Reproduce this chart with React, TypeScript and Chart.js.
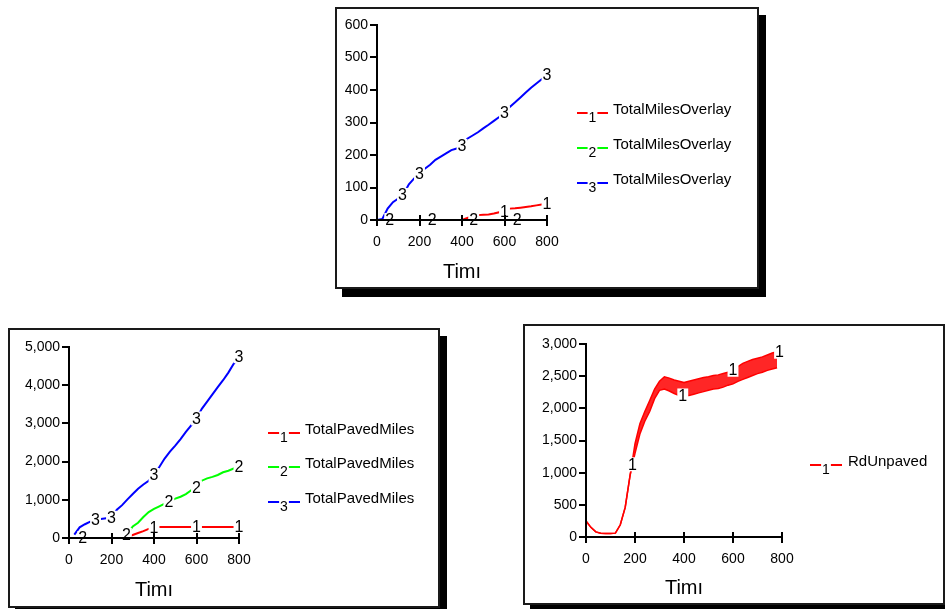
import React, { useEffect, useRef } from "react";
import { Chart, registerables } from "chart.js";

Chart.register(...registerables);

const FONT = '"Liberation Sans", Arial, Helvetica, sans-serif';
const AXIS_TITLE = "Timı";

// ---------- shared time axis (step 25) ----------
const time25 = [0, 25, 50, 75, 100, 125, 150, 175, 200, 225, 250, 275, 300, 325, 350, 375, 400, 425, 450, 475, 500, 525, 550, 575, 600, 625, 650, 675, 700, 725, 750, 775, 800];

// ---------- top chart: TotalMilesOverlay ----------
const overlay1 = [0, 0, 0, 0, 0, 0, 0, 0, 0, 0, 0, 0, 0, 0, 0, 0, 0, 6, 12, 15, 16, 17, 20, 24, 27, 35, 36, 38, 40, 42, 45, 48, 50];
const overlay2 = [0, 0, 0, 0, 0, 0, 0, 0, 0, 0, 0, 0, 0, 0, 0, 0, 0, 0, 0, 0, 0, 0, 0, 0, 0, 0, 0, 0, 0, 0, 0, 0, 0];
const overlay3 = [0, 3, 35, 55, 66, 80, 110, 128, 142, 158, 170, 185, 195, 205, 215, 220, 228, 250, 260, 270, 282, 293, 305, 317, 330, 348, 362, 377, 392, 407, 420, 433, 447];
const overlayMarks1 = [600, 800];
const overlayMarks2 = [60, 260, 455, 660];
const overlayMarks3 = [120, 200, 400, 600, 800];

// ---------- bottom-left chart: TotalPavedMiles ----------
const paved1 = [0, 0, 0, 0, 0, 0, 0, 0, 0, 0, 0, 0, 80, 130, 180, 240, 270, 290, 290, 290, 290, 290, 290, 290, 290, 290, 290, 290, 290, 290, 290, 290, 290];
const paved2 = [0, 0, 0, 0, 0, 0, 0, 0, 0, 0, 0, 100, 300, 400, 550, 680, 760, 830, 900, 960, 1030, 1080, 1150, 1250, 1330, 1500, 1560, 1600, 1650, 1720, 1760, 1820, 1860];
const paved3 = [null, 90, 280, 360, 430, 470, 500, 515, 530, 740, 860, 1010, 1150, 1290, 1400, 1500, 1650, 1860, 2080, 2260, 2420, 2590, 2780, 2950, 3130, 3380, 3570, 3760, 3950, 4130, 4330, 4560, 4760];
const pavedMarks1 = [400, 600, 800];
const pavedMarks2 = [65, 270, 470, 600, 800];
const pavedMarks3 = [125, 200, 400, 600, 800];

// ---------- bottom-right chart: RdUnpaved ----------
const rdStartTime = [0, 20, 40, 60, 80, 100, 120, 140, 160, 180];
const rdStart = [250, 150, 80, 60, 55, 55, 60, 190, 460, 960];
const rdBandTime = [200, 220, 240, 260, 280, 300, 320, 340, 360, 380, 400, 420, 440, 460, 480, 500, 520, 540, 560, 580, 600, 620, 640, 660, 680, 700, 720, 740, 760, 780];
const rdBandLow = [1300, 1600, 1800, 1950, 2150, 2280, 2300, 2270, 2230, 2200, 2200, 2200, 2220, 2240, 2260, 2280, 2300, 2310, 2330, 2360, 2380, 2420, 2450, 2480, 2510, 2540, 2560, 2590, 2610, 2630];
const rdBandHigh = [1450, 1760, 1950, 2120, 2300, 2420, 2490, 2470, 2440, 2420, 2400, 2420, 2440, 2460, 2480, 2490, 2510, 2520, 2540, 2560, 2600, 2650, 2700, 2730, 2760, 2780, 2800, 2830, 2860, 2880];
const rdMarksLow = [190, 395];
const rdMarksHigh = [600, 790];

const RED = "#ff0000";
const GREEN = "#00ff00";
const BLUE = "#0000ff";

type Pt = { x: number; y: number | null };
const pts = (xs: number[], ys: (number | null)[]): Pt[] => xs.map((x, i) => ({ x, y: ys[i] }));

function valueAt(data: Pt[], t: number): number | null {
  const v = data.filter((p) => p.y != null) as { x: number; y: number }[];
  if (!v.length) return null;
  if (t <= v[0].x) return v[0].y;
  if (t >= v[v.length - 1].x) return v[v.length - 1].y;
  for (let i = 0; i < v.length - 1; i++) {
    const a = v[i], b = v[i + 1];
    if (t >= a.x && t <= b.x) {
      const f = (t - a.x) / (b.x - a.x);
      return a.y + (b.y - a.y) * f;
    }
  }
  return null;
}

const stellaPlugin = {
  id: "stella",
  afterDatasetsDraw(chart: any, _args: any, opts: any) {
    const { ctx, chartArea: a } = chart;
    const xs = chart.scales.x;
    const ys = chart.scales.y;
    ctx.save();
    // number markers on the curves
    ctx.font = `16px ${FONT}`;
    ctx.textAlign = "center";
    ctx.textBaseline = "middle";
    for (const m of opts.marks || []) {
      const data = chart.data.datasets[m.ds].data as Pt[];
      for (const t of m.times) {
        const v = valueAt(data, t);
        if (v == null) continue;
        const px = xs.getPixelForValue(t);
        const py = ys.getPixelForValue(v);
        const w = ctx.measureText(m.label).width;
        ctx.fillStyle = "#fff";
        ctx.fillRect(px - w / 2 - 1, py - 7, w + 2, 14);
        ctx.fillStyle = "#000";
        ctx.fillText(m.label, px, py + 1);
      }
    }
    // axis lines redrawn on top
    ctx.strokeStyle = "#000";
    ctx.lineWidth = 2;
    ctx.beginPath();
    ctx.moveTo(a.left, a.top - 1);
    ctx.lineTo(a.left, a.bottom);
    ctx.lineTo(a.right + 1, a.bottom);
    ctx.stroke();
    for (const tk of xs.ticks) {
      if (tk.value <= 0) continue;
      const px = Math.round(xs.getPixelForValue(tk.value));
      ctx.beginPath();
      ctx.moveTo(px, a.bottom - 5);
      ctx.lineTo(px, a.bottom + 6);
      ctx.stroke();
    }
    // legend
    const L = opts.legend;
    L.items.forEach((it: any, i: number) => {
      const y = L.rows[i];
      ctx.strokeStyle = it.color;
      ctx.lineWidth = 2;
      ctx.beginPath();
      ctx.moveTo(L.x1, y);
      ctx.lineTo(L.x2, y);
      ctx.stroke();
      ctx.font = `14px ${FONT}`;
      const cx = (L.x1 + L.x2) / 2;
      const w = ctx.measureText(it.num).width;
      ctx.fillStyle = "#fff";
      ctx.fillRect(cx - w / 2 - 1, y - 1, w + 2, 11);
      ctx.fillStyle = "#000";
      ctx.textAlign = "center";
      ctx.textBaseline = "middle";
      ctx.fillText(it.num, cx, y + 5);
      ctx.font = `15px ${FONT}`;
      ctx.textAlign = "left";
      ctx.textBaseline = "alphabetic";
      ctx.fillText(it.text, L.textX, y + 1);
    });
    ctx.restore();
  },
};

type Spec = {
  left: number;
  top: number;
  width: number;
  height: number;
  area: { left: number; right: number; top: number; bottom: number };
  yMax: number;
  yStep: number;
  titlePad: number;
  datasets: any[];
  marks: { ds: number; label: string; times: number[] }[];
  legend: { items: { num: string; color: string; text: string }[]; x1: number; x2: number; textX: number; rows: number[] };
};

function Panel({ spec }: { spec: Spec }) {
  const ref = useRef<HTMLCanvasElement | null>(null);
  const cw = spec.width - 4;
  const ch = spec.height - 4;
  useEffect(() => {
    if (!ref.current) return;
    const tickFont = { size: 14, family: FONT };
    const chart = new Chart(ref.current, {
      type: "line",
      data: { datasets: spec.datasets },
      options: {
        responsive: false,
        maintainAspectRatio: false,
        animation: false,
        layout: { padding: { left: 0, top: spec.area.top, right: cw - spec.area.right, bottom: 0 } },
        elements: { point: { radius: 0 }, line: { tension: 0, borderWidth: 2 } },
        plugins: {
          legend: { display: false },
          tooltip: { enabled: false },
          stella: { marks: spec.marks, legend: spec.legend },
        } as any,
        scales: {
          x: {
            type: "linear",
            min: 0,
            max: 800,
            afterFit: (s: any) => {
              s.height = ch - spec.area.bottom;
            },
            ticks: { stepSize: 200, color: "#000", font: tickFont, padding: 8, maxRotation: 0 },
            grid: { drawOnChartArea: false, drawTicks: true, tickLength: 6, color: "#000", lineWidth: 2 },
            border: { display: true, color: "#000", width: 2 },
            title: {
              display: true,
              text: AXIS_TITLE,
              color: "#000",
              font: { size: 20, family: FONT },
              padding: { top: 0, bottom: spec.titlePad },
            },
          },
          y: {
            type: "linear",
            min: 0,
            max: spec.yMax,
            afterFit: (s: any) => {
              s.width = spec.area.left;
            },
            ticks: {
              stepSize: spec.yStep,
              color: "#000",
              font: tickFont,
              padding: 2,
              callback: (v: any) => Number(v).toLocaleString("en-US"),
            },
            grid: { drawOnChartArea: false, drawTicks: true, tickLength: 7, color: "#000", lineWidth: 2 },
            border: { display: true, color: "#000", width: 2 },
          },
        },
      } as any,
      plugins: [stellaPlugin as any],
    });
    return () => chart.destroy();
  }, []);
  return (
    <div
      style={{
        position: "absolute",
        left: spec.left,
        top: spec.top,
        width: spec.width - 4,
        height: spec.height - 4,
        border: "2px solid #1a1a1a",
        boxShadow: "7px 8px 0 #000",
        background: "#fff",
      }}
    >
      <canvas ref={ref} width={cw} height={ch} style={{ display: "block", width: cw, height: ch }} />
    </div>
  );
}

const line = (label: string, data: Pt[], color: string, extra: any = {}) => ({
  label,
  data,
  borderColor: color,
  backgroundColor: color,
  borderWidth: 2,
  pointRadius: 0,
  fill: false,
  ...extra,
});

const overlaySpec: Spec = {
  left: 335,
  top: 7,
  width: 424,
  height: 282,
  area: { left: 40, right: 210, top: 16, bottom: 211 },
  yMax: 600,
  yStep: 100,
  titlePad: 3,
  datasets: [
    line("TotalMilesOverlay", pts(time25, overlay1), RED),
    line("TotalMilesOverlay", pts(time25, overlay2), GREEN),
    line("TotalMilesOverlay", pts(time25, overlay3), BLUE),
  ],
  marks: [
    { ds: 0, label: "1", times: overlayMarks1 },
    { ds: 1, label: "2", times: overlayMarks2 },
    { ds: 2, label: "3", times: overlayMarks3 },
  ],
  legend: {
    items: [
      { num: "1", color: RED, text: "TotalMilesOverlay" },
      { num: "2", color: GREEN, text: "TotalMilesOverlay" },
      { num: "3", color: BLUE, text: "TotalMilesOverlay" },
    ],
    x1: 240,
    x2: 271,
    textX: 276,
    rows: [104, 139, 174],
  },
};

const pavedSpec: Spec = {
  left: 8,
  top: 328,
  width: 432,
  height: 280,
  area: { left: 59, right: 229, top: 17, bottom: 208 },
  yMax: 5000,
  yStep: 1000,
  titlePad: 4,
  datasets: [
    line("TotalPavedMiles", pts(time25, paved1), RED),
    line("TotalPavedMiles", pts(time25, paved2), GREEN),
    line("TotalPavedMiles", pts(time25, paved3), BLUE),
  ],
  marks: [
    { ds: 0, label: "1", times: pavedMarks1 },
    { ds: 1, label: "2", times: pavedMarks2 },
    { ds: 2, label: "3", times: pavedMarks3 },
  ],
  legend: {
    items: [
      { num: "1", color: RED, text: "TotalPavedMiles" },
      { num: "2", color: GREEN, text: "TotalPavedMiles" },
      { num: "3", color: BLUE, text: "TotalPavedMiles" },
    ],
    x1: 258,
    x2: 290,
    textX: 295,
    rows: [103, 137, 172],
  },
};

const rdTime = [...rdStartTime, ...rdBandTime];
const rdSpec: Spec = {
  left: 523,
  top: 324,
  width: 422,
  height: 281,
  area: { left: 61, right: 257, top: 18, bottom: 211 },
  yMax: 3000,
  yStep: 500,
  titlePad: 3,
  datasets: [
    line("RdUnpaved", pts(rdTime, [...rdStart, ...rdBandLow]), RED, { borderWidth: 1.5 }),
    line("RdUnpaved", pts(rdTime, [...rdStart, ...rdBandHigh]), RED, {
      borderWidth: 1.5,
      fill: "-1",
      backgroundColor: "rgba(255,0,0,0.85)",
    }),
  ],
  marks: [
    { ds: 0, label: "1", times: rdMarksLow },
    { ds: 1, label: "1", times: rdMarksHigh },
  ],
  legend: {
    items: [{ num: "1", color: RED, text: "RdUnpaved" }],
    x1: 285,
    x2: 317,
    textX: 323,
    rows: [139],
  },
};

export default function App() {
  return (
    <div
      style={{
        position: "absolute",
        left: 0,
        top: 0,
        width: 945,
        height: 609,
        overflow: "hidden",
        background: "#fff",
      }}
    >
      <Panel spec={overlaySpec} />
      <Panel spec={pavedSpec} />
      <Panel spec={rdSpec} />
    </div>
  );
}
